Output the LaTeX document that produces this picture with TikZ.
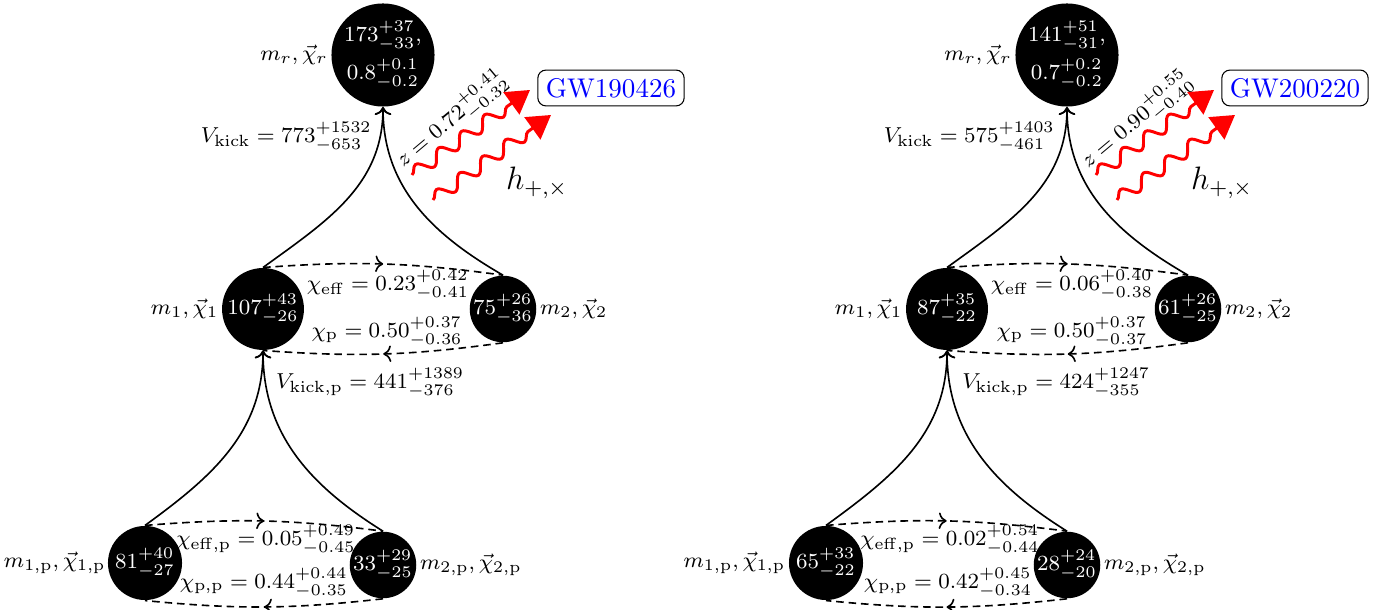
\documentclass[tikz,border=0pt]{standalone}
\usetikzlibrary{arrows.meta,decorations.pathmorphing,decorations.markings}
\begin{document}
\begin{tikzpicture}[x=0.37pt,y=0.37pt,
  bh/.style={circle,fill=black,text=white,inner sep=0pt,align=center,font=\fontsize{8.1}{9.7}\selectfont},
  lab/.style={inner sep=1pt,font=\fontsize{8.3}{10}\selectfont},
  val/.style={inner sep=1pt,font=\fontsize{8.3}{10}\selectfont},
  kick/.style={semithick,->},
  spin/.style={semithick,dash pattern=on 2.8pt off 1.8pt,
    decoration={markings,mark=at position 0.5 with {\arrow{>}}},postaction={decorate}},
  gw/.style={red,line width=1.1pt,decorate,
    decoration={snake,amplitude=2.4pt,segment length=10.5pt,post length=6pt},
    -{Triangle[length=8.5pt,width=10pt]}},
  gwbox/.style={draw=black,rounded corners=3pt,text=blue,inner sep=3pt}
]
\useasboundingbox (0,0) rectangle (1379,-610);

% ---------------- left panel: GW190426 ----------------
\node[bh,minimum size=35.5pt] (Lr) at (383,-55) {$173^{+37}_{-33}$,\\[2pt]$0.8^{+0.1}_{-0.2}$};
\node[bh,minimum size=30.3pt] (Lm1) at (263,-309) {$107^{+43}_{-26}$};
\node[bh,minimum size=23pt] (Lm2) at (503,-309) {$75^{+26}_{-36}$};
\node[bh,minimum size=27.4pt] (Lm1p) at (145,-563) {$81^{+40}_{-27}$};
\node[bh,minimum size=22.2pt] (Lm2p) at (383,-565) {$33^{+29}_{-25}$};

\node[lab,anchor=east] (Lrlab) at (Lr.west) {$m_r,\vec{\chi}_r$};
\node[lab,anchor=east] (Lm1lab) at (Lm1.west) {$m_1,\vec{\chi}_1$};
\node[lab,anchor=west] (Lm2lab) at (Lm2.east) {$m_2,\vec{\chi}_2$};
\node[lab,anchor=east,inner sep=0.5pt] (Lm1plab) at (Lm1p.west) {$m_{1,\mathrm{p}},\vec{\chi}_{1,\mathrm{p}}$};
\node[lab,anchor=west] (Lm2plab) at (Lm2p.east) {$m_{2,\mathrm{p}},\vec{\chi}_{2,\mathrm{p}}$};

\node[val,anchor=east] (Lvk) at (375,-137) {$V_{\mathrm{kick}} = 773^{+1532}_{-653}$};
\node[val,rotate=40] (Lz) at (452,-120) {$z = 0.72^{+0.41}_{-0.32}$};
\node[val] (Lce) at (388,-285) {$\chi_{\mathrm{eff}} = 0.23^{+0.42}_{-0.41}$};
\node[val] (Lcp) at (387,-332) {$\chi_{\mathrm{p}} = 0.50^{+0.37}_{-0.36}$};
\node[val,anchor=west] (Lvkp) at (273,-383) {$V_{\mathrm{kick,p}} = 441^{+1389}_{-376}$};
\node[val] (Lcep) at (266,-540) {$\chi_{\mathrm{eff,p}} = 0.05^{+0.49}_{-0.45}$};
\node[val] (Lcpp) at (264,-583) {$\chi_{\mathrm{p,p}} = 0.44^{+0.44}_{-0.35}$};
\node[font=\large] (Lh) at (537,-183) {$h_{+,\times}$};
\node[gwbox] (Lgw) at (611,-88) {GW190426};

\draw[kick] (Lm1.north) to[out=36,in=-90] (Lr.south);
\draw[kick] (Lm2.north) to[out=150,in=-90] (Lr.south);
\draw[kick] (Lm1p.north) to[out=36,in=-90] (Lm1.south);
\draw[kick] (Lm2p.north) to[out=148,in=-90] (Lm1.south);
\draw[spin] (Lm1.north) to[bend left=6] (Lm2.north);
\draw[spin] (Lm2.south) to[bend left=6] (Lm1.south);
\draw[spin] (Lm1p.north) to[bend left=6] (Lm2p.north);
\draw[spin] (Lm2p.south) to[bend left=6] (Lm1p.south);

\coordinate (Lw1s) at (412,-175);
\coordinate (Lw1e) at (530,-90);
\coordinate (Lw2s) at (433,-200);
\coordinate (Lw2e) at (551,-115);
\draw[gw] (Lw1s) -- (Lw1e);
\draw[gw] (Lw2s) -- (Lw2e);

% ---------------- right panel: GW200220 ----------------
\begin{scope}[shift={(684,0)}]
\node[bh,minimum size=35.5pt] (Rr) at (383,-55) {$141^{+51}_{-31}$,\\[2pt]$0.7^{+0.2}_{-0.2}$};
\node[bh,minimum size=30.3pt] (Rm1) at (263,-309) {$87^{+35}_{-22}$};
\node[bh,minimum size=23pt] (Rm2) at (504,-309) {$61^{+26}_{-25}$};
\node[bh,minimum size=27.4pt] (Rm1p) at (142,-563) {$65^{+33}_{-22}$};
\node[bh,minimum size=22.2pt] (Rm2p) at (383,-565) {$28^{+24}_{-20}$};

\node[lab,anchor=east] (Rrlab) at (Rr.west) {$m_r,\vec{\chi}_r$};
\node[lab,anchor=east] (Rm1lab) at (Rm1.west) {$m_1,\vec{\chi}_1$};
\node[lab,anchor=west] (Rm2lab) at (Rm2.east) {$m_2,\vec{\chi}_2$};
\node[lab,anchor=east] (Rm1plab) at (Rm1p.west) {$m_{1,\mathrm{p}},\vec{\chi}_{1,\mathrm{p}}$};
\node[lab,anchor=west] (Rm2plab) at (Rm2p.east) {$m_{2,\mathrm{p}},\vec{\chi}_{2,\mathrm{p}}$};

\node[val,anchor=east] (Rvk) at (374,-137) {$V_{\mathrm{kick}} = 575^{+1403}_{-461}$};
\node[val,rotate=40] (Rz) at (453,-121) {$z = 0.90^{+0.55}_{-0.40}$};
\node[val] (Rce) at (388,-285) {$\chi_{\mathrm{eff}} = 0.06^{+0.40}_{-0.38}$};
\node[val] (Rcp) at (388,-332) {$\chi_{\mathrm{p}} = 0.50^{+0.37}_{-0.37}$};
\node[val,anchor=west] (Rvkp) at (275,-383) {$V_{\mathrm{kick,p}} = 424^{+1247}_{-355}$};
\node[val] (Rcep) at (266,-540) {$\chi_{\mathrm{eff,p}} = 0.02^{+0.54}_{-0.44}$};
\node[val] (Rcpp) at (264,-583) {$\chi_{\mathrm{p,p}} = 0.42^{+0.45}_{-0.34}$};
\node[font=\large] (Rh) at (538,-183) {$h_{+,\times}$};
\node[gwbox] (Rgw) at (611,-88) {GW200220};

\draw[kick] (Rm1.north) to[out=36,in=-90] (Rr.south);
\draw[kick] (Rm2.north) to[out=150,in=-90] (Rr.south);
\draw[kick] (Rm1p.north) to[out=36,in=-90] (Rm1.south);
\draw[kick] (Rm2p.north) to[out=148,in=-90] (Rm1.south);
\draw[spin] (Rm1.north) to[bend left=6] (Rm2.north);
\draw[spin] (Rm2.south) to[bend left=6] (Rm1.south);
\draw[spin] (Rm1p.north) to[bend left=6] (Rm2p.north);
\draw[spin] (Rm2p.south) to[bend left=6] (Rm1p.south);

\coordinate (Rw1s) at (412,-175);
\coordinate (Rw1e) at (530,-90);
\coordinate (Rw2s) at (433,-200);
\coordinate (Rw2e) at (551,-115);
\draw[gw] (Rw1s) -- (Rw1e);
\draw[gw] (Rw2s) -- (Rw2e);
\end{scope}
\end{tikzpicture}
\end{document}
